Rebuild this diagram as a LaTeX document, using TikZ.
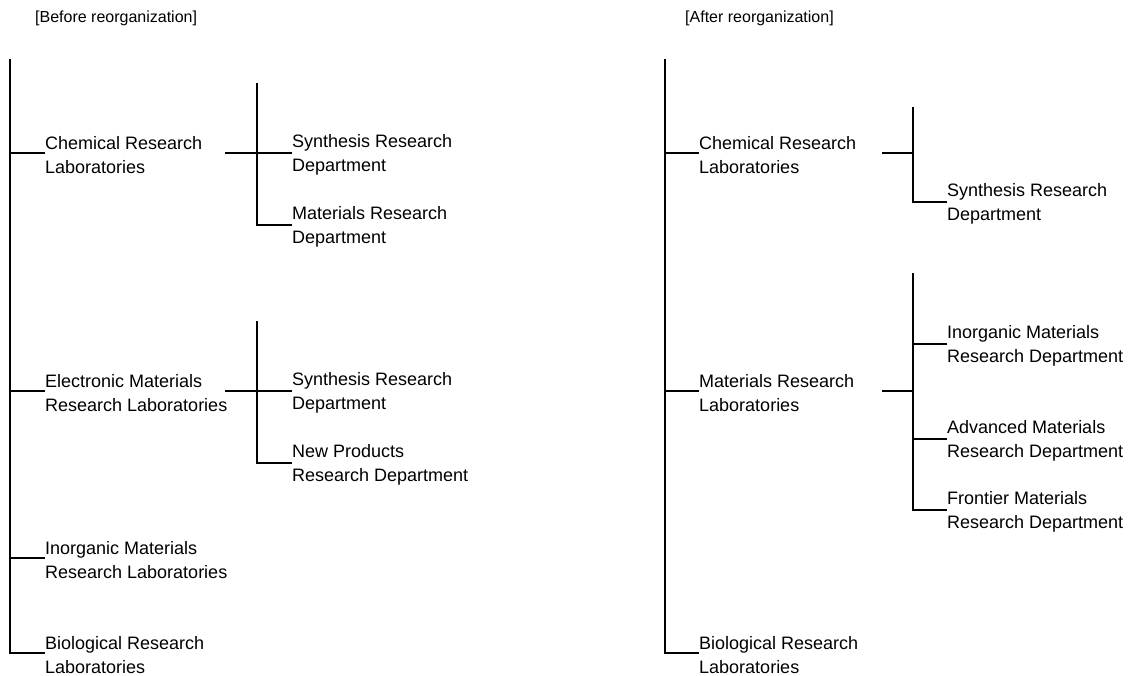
\documentclass[tikz,border=0pt]{standalone}
\usepackage{fontspec}
\setmainfont{Liberation Sans}
\begin{document}
\begin{tikzpicture}[x=1pt,y=-1pt,
  line/.style={line width=2.4pt,line join=miter},
  lab/.style={anchor=west,inner sep=0pt,align=left,yshift=-2pt,font=\fontsize{18}{24}\selectfont},
  ttl/.style={anchor=west,inner sep=0pt,font=\fontsize{16}{20}\selectfont}]
\useasboundingbox (0,0) rectangle (1132,675);
% titles
\node[ttl] (tL) at (35,18) {[Before reorganization]};
\node[ttl] (tR) at (685,18) {[After reorganization]};
% ---------- left tree ----------
\coordinate (Ltop) at (10,59);
\node[lab] (chemL) at (45,153) {Chemical Research\\Laboratories};
\node[lab] (elecL) at (45,391) {Electronic Materials\\Research Laboratories};
\node[lab] (inorgL) at (45,558) {Inorganic Materials\\Research Laboratories};
\node[lab] (bioL) at (45,653) {Biological Research\\Laboratories};
\coordinate (chemLp) at ([yshift=2pt]chemL.west);
\coordinate (elecLp) at ([yshift=2pt]elecL.west);
\coordinate (inorgLp) at ([yshift=2pt]inorgL.west);
\coordinate (bioLp) at ([yshift=2pt]bioL.west);
\draw[line] (Ltop) |- (bioLp);
\draw[line] (Ltop |- chemLp) -- (chemLp);
\draw[line] (Ltop |- elecLp) -- (elecLp);
\draw[line] (Ltop |- inorgLp) -- (inorgLp);
% sub tree 1
\node[lab] (synL1) at (292,153) {Synthesis Research\\Department};
\node[lab] (matL1) at (292,225) {Materials Research\\Department};
\coordinate (synL1p) at ([yshift=2pt]synL1.west);
\coordinate (matL1p) at ([yshift=2pt]matL1.west);
\coordinate (c1) at (225,153);
\coordinate (v1) at (257,83);
\draw[line] (c1) -- (synL1p);
\draw[line] (v1) |- (matL1p);
% sub tree 2
\node[lab] (synL2) at (292,391) {Synthesis Research\\Department};
\node[lab] (newL) at (292,463) {New Products\\Research Department};
\coordinate (synL2p) at ([yshift=2pt]synL2.west);
\coordinate (newLp) at ([yshift=2pt]newL.west);
\coordinate (c2) at (225,391);
\coordinate (v2) at (257,321);
\draw[line] (c2) -- (synL2p);
\draw[line] (v2) |- (newLp);
% ---------- right tree ----------
\coordinate (Rtop) at (665,59);
\node[lab] (chemR) at (699,153) {Chemical Research\\Laboratories};
\node[lab] (matR) at (699,391) {Materials Research\\Laboratories};
\node[lab] (bioR) at (699,653) {Biological Research\\Laboratories};
\coordinate (chemRp) at ([yshift=2pt]chemR.west);
\coordinate (matRp) at ([yshift=2pt]matR.west);
\coordinate (bioRp) at ([yshift=2pt]bioR.west);
\draw[line] (Rtop) |- (bioRp);
\draw[line] (Rtop |- chemRp) -- (chemRp);
\draw[line] (Rtop |- matRp) -- (matRp);
% sub tree 3
\node[lab] (synR) at (947,202) {Synthesis Research\\Department};
\coordinate (synRp) at ([yshift=2pt]synR.west);
\coordinate (c3) at (882,153);
\coordinate (v3) at (913,107);
\draw[line] (c3) -- (v3 |- c3);
\draw[line] (v3) |- (synRp);
% sub tree 4
\node[lab] (inorgR) at (947,344) {Inorganic Materials\\Research Department};
\node[lab] (advR) at (947,439) {Advanced Materials\\Research Department};
\node[lab] (frontR) at (947,510) {Frontier Materials\\Research Department};
\coordinate (inorgRp) at ([yshift=2pt]inorgR.west);
\coordinate (advRp) at ([yshift=2pt]advR.west);
\coordinate (frontRp) at ([yshift=2pt]frontR.west);
\coordinate (c4) at (882,391);
\coordinate (v4) at (913,273);
\draw[line] (c4) -- (v4 |- c4);
\draw[line] (v4) |- (frontRp);
\draw[line] (v4 |- inorgRp) -- (inorgRp);
\draw[line] (v4 |- advRp) -- (advRp);
\end{tikzpicture}
\end{document}
